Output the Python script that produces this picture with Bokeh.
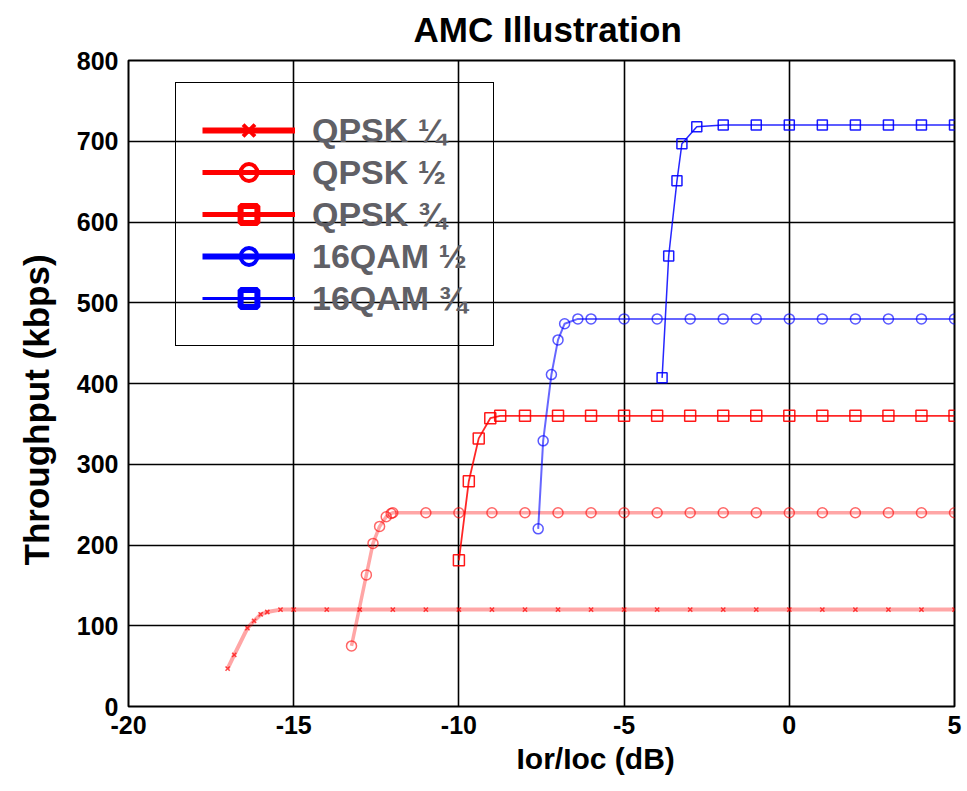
import math
from bokeh.plotting import figure
from bokeh.models import Legend, LegendItem, Range1d, FixedTicker, Title
from bokeh.embed import file_html
from bokeh.resources import INLINE

# ---------------- data ----------------
x_ticks = [-20, -15, -10, -5, 0, 5]
y_ticks = [0, 100, 200, 300, 400, 500, 600, 700, 800]

qpsk14_x = [-17.0, -16.8, -16.4, -16.2, -16.0, -15.8, -15.4, -15, -14, -13, -12, -11, -10, -9, -8, -7,
            -6, -5, -4, -3, -2, -1, 0, 1, 2, 3, 4, 5]
qpsk14_y = [47, 64, 97, 106, 114, 117, 120, 120, 120, 120, 120, 120, 120, 120, 120, 120,
            120, 120, 120, 120, 120, 120, 120, 120, 120, 120, 120, 120]

qpsk12_x = [-13.25, -12.8, -12.6, -12.4, -12.2, -12.05, -12, -11, -10, -9, -8, -7, -6, -5, -4, -3,
            -2, -1, 0, 1, 2, 3, 4, 5]
qpsk12_y = [75, 163, 202, 223, 235, 239, 240, 240, 240, 240, 240, 240, 240, 240, 240, 240,
            240, 240, 240, 240, 240, 240, 240, 240]

qpsk34_x = [-10.0, -9.7, -9.4, -9.05, -8.75, -8, -7, -6, -5, -4, -3, -2, -1, 0, 1, 2, 3, 4, 5]
qpsk34_y = [181, 279, 332, 357, 360, 360, 360, 360, 360, 360, 360, 360, 360, 360, 360, 360, 360, 360, 360]

qam12_x = [-7.6, -7.45, -7.2, -7.0, -6.8, -6.4, -6.0, -5, -4, -3, -2, -1, 0, 1, 2, 3, 4, 5]
qam12_y = [220, 329, 411, 454, 474, 480, 480, 480, 480, 480, 480, 480, 480, 480, 480, 480, 480, 480]

qam34_x = [-3.85, -3.65, -3.4, -3.25, -2.8, -2, -1, 0, 1, 2, 3, 4, 5]
qam34_y = [407, 558, 651, 697, 718, 720, 720, 720, 720, 720, 720, 720, 720]

labels = ["QPSK \u00bc", "QPSK \u00bd", "QPSK \u00be", "16QAM \u00bd", "16QAM \u00be"]

title_text = "AMC Illustration"
x_title = "Ior/Ioc (dB)"
y_title = "Throughput (kbps)"

FONT = "Liberation Sans"
RED = "#ff0000"
BLUE = "#0000ff"

p = figure(width=966, height=790, x_range=Range1d(-20, 5), y_range=Range1d(0, 800),
           output_backend="svg", toolbar_location=None,
           min_border_left=127, min_border_right=12, min_border_top=60, min_border_bottom=84)

p.background_fill_color = "white"
p.border_fill_color = "white"
p.outline_line_color = "black"
p.outline_line_width = 2

for ax in (p.xaxis, p.yaxis):
    ax.major_label_text_font = FONT
    ax.major_label_text_font_size = "25px"
    ax.major_label_text_font_style = "bold"
    ax.major_label_text_color = "black"
    ax.axis_line_color = None
    ax.major_tick_line_color = None
    ax.minor_tick_line_color = None
    ax.major_tick_out = 0
    ax.major_tick_in = 0

p.xaxis.ticker = FixedTicker(ticks=x_ticks)
p.yaxis.ticker = FixedTicker(ticks=y_ticks)
p.xaxis.major_label_overrides = {t: str(t) for t in x_ticks}
p.xaxis.major_label_standoff = 9
p.yaxis.major_label_standoff = 10

p.xgrid.ticker = FixedTicker(ticks=x_ticks)
p.ygrid.ticker = FixedTicker(ticks=y_ticks)
for g in (p.xgrid, p.ygrid):
    g.grid_line_color = "black"
    g.grid_line_width = 1.6
    g.grid_line_alpha = 1.0

# ---------------- titles ----------------
def make_title(text, size, offset, standoff, valign):
    return Title(text=text, text_font=FONT, text_font_size=size, text_font_style="bold",
                 text_color="black", align="left", offset=offset, standoff=standoff,
                 vertical_align=valign)

p.add_layout(make_title(title_text, "35px", 285, 19, "top"), "above")
p.add_layout(make_title(x_title, "30px", 388, 7, "bottom"), "below")
p.add_layout(make_title(y_title, "35px", 141, 32, "top"), "left")

# ---------------- series ----------------
p.line(qpsk14_x, qpsk14_y, line_color=RED, line_width=4, line_alpha=0.35)
p.scatter(qpsk14_x, qpsk14_y, marker="x", size=6, line_color=RED, line_alpha=0.7, line_width=1.5)

p.line(qpsk12_x, qpsk12_y, line_color=RED, line_width=3.5, line_alpha=0.35)
p.scatter(qpsk12_x, qpsk12_y, marker="circle", size=10, fill_color=None, line_color=RED,
          line_alpha=0.6, line_width=1.5)

p.line(qpsk34_x, qpsk34_y, line_color=RED, line_width=1.8, line_alpha=0.85)
p.scatter(qpsk34_x, qpsk34_y, marker="square", size=11, fill_color=None, line_color=RED,
          line_alpha=0.9, line_width=1.5)

p.line(qam12_x, qam12_y, line_color=BLUE, line_width=2, line_alpha=0.6)
p.scatter(qam12_x, qam12_y, marker="circle", size=10, fill_color=None, line_color=BLUE,
          line_alpha=0.65, line_width=1.5)

p.line(qam34_x, qam34_y, line_color=BLUE, line_width=1.5, line_alpha=0.85)
p.scatter(qam34_x, qam34_y, marker="square", size=10, fill_color=None, line_color=BLUE,
          line_alpha=0.9, line_width=1.5)

# ---------------- legend (dummy renderers for thick legend glyphs) ----------------
nan = [math.nan]
leg_specs = [
    (RED, "x", 4, 6),
    (RED, "circle", 4, 5),
    (RED, "square", 6, 5),
    (BLUE, "circle", 4, 6),
    (BLUE, "square", 6, 3),
]
items = []
for lab, (col, mk, mlw, llw) in zip(labels, leg_specs):
    lr = p.line(nan, nan, line_color=col, line_width=llw)
    sr = p.scatter(nan, nan, marker=mk, size=20, fill_color=None, line_color=col, line_width=mlw)
    items.append(LegendItem(label=lab, renderers=[lr, sr]))

legend = Legend(items=items, location=(47, 360))
legend.label_text_font = FONT
legend.label_text_font_size = "34px"
legend.label_text_font_style = "bold"
legend.label_text_color = "#606066"
legend.glyph_width = 93
legend.glyph_height = 42
legend.label_height = 42
legend.label_standoff = 17
legend.spacing = 0
legend.padding = 26
legend.margin = 0
legend.border_line_color = "black"
legend.border_line_alpha = 1.0
legend.border_line_width = 1.5
legend.background_fill_alpha = 0.0
p.add_layout(legend, "center")

open("out.html", "w").write(file_html(p, INLINE))
